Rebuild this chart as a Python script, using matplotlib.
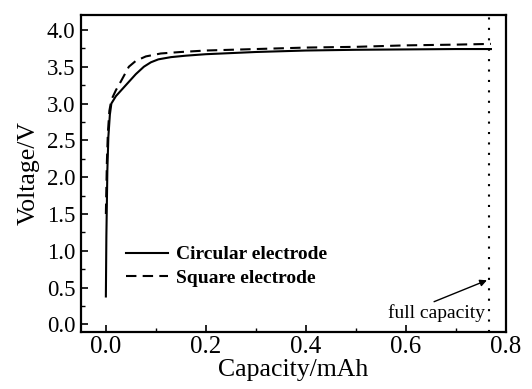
import matplotlib
matplotlib.use("Agg")
import matplotlib.pyplot as plt
from matplotlib.ticker import MultipleLocator

# discharge/charge curves
cap_circ = [0.0, 0.001, 0.003, 0.005, 0.008, 0.011, 0.02, 0.04, 0.06, 0.076, 0.09,
            0.105, 0.13, 0.16, 0.2, 0.3, 0.4, 0.5, 0.6, 0.7, 0.77]
volt_circ = [0.38, 1.2, 2.1, 2.55, 2.85, 3.0, 3.1, 3.25, 3.4, 3.5, 3.56,
             3.6, 3.63, 3.65, 3.67, 3.7, 3.72, 3.73, 3.735, 3.74, 3.74]
cap_sq = [0.0, 0.002, 0.004, 0.007, 0.011, 0.02, 0.03, 0.046, 0.06, 0.08,
          0.11, 0.15, 0.2, 0.3, 0.4, 0.5, 0.6, 0.7, 0.77]
volt_sq = [1.5, 2.2, 2.6, 2.9, 3.05, 3.18, 3.3, 3.5, 3.58, 3.64,
           3.68, 3.7, 3.72, 3.74, 3.76, 3.77, 3.79, 3.8, 3.81]
full_cap = 0.767

plt.rcParams["font.family"] = ["Liberation Serif", "DejaVu Serif"]

fig, ax = plt.subplots(figsize=(5.32, 3.89), dpi=100)
fig.subplots_adjust(left=0.152, right=0.951, top=0.961, bottom=0.147)

ax.plot(cap_circ, volt_circ, color="black", lw=1.5, ls="-", label="Circular electrode")
ax.plot(cap_sq, volt_sq, color="black", lw=1.5, ls=(0, (5, 3)), label="Square electrode")
ax.axvline(full_cap, color="black", lw=1.5, ls=(0, (1, 4)))

ax.annotate("full capacity", xy=(0.762, 0.6), xytext=(0.662, 0.15),
            ha="center", va="center", fontsize=14,
            arrowprops=dict(arrowstyle="-|>", color="black", lw=1.0,
                            shrinkA=0, shrinkB=0, mutation_scale=10,
                            relpos=(0.4, 1.0)))

ax.set_xlim(-0.05, 0.8)
ax.set_ylim(-0.1, 4.2)
ax.xaxis.set_major_locator(MultipleLocator(0.2))
ax.xaxis.set_minor_locator(MultipleLocator(0.1))
ax.yaxis.set_major_locator(MultipleLocator(0.5))
ax.yaxis.set_minor_locator(MultipleLocator(0.25))
ax.tick_params(which="both", direction="in")
ax.tick_params(axis="x", labelsize=18, pad=3)
ax.tick_params(axis="y", labelsize=16.5, pad=4)
ax.tick_params(which="major", length=5, width=1.2)
ax.tick_params(which="minor", length=3, width=1.0)
for s in ax.spines.values():
    s.set_linewidth(1.6)

ax.set_xlabel("Capacity/mAh", fontsize=18.5, labelpad=1)
ax.set_ylabel("Voltage/V", fontsize=18.5, labelpad=5)

leg = ax.legend(loc="lower left", bbox_to_anchor=(0.106, 0.142), frameon=False,
                prop={"weight": "bold", "size": 14}, handlelength=2.15,
                handletextpad=0.45, labelspacing=0.3, borderpad=0,
                borderaxespad=0)

fig.savefig("out.png", dpi=100)
